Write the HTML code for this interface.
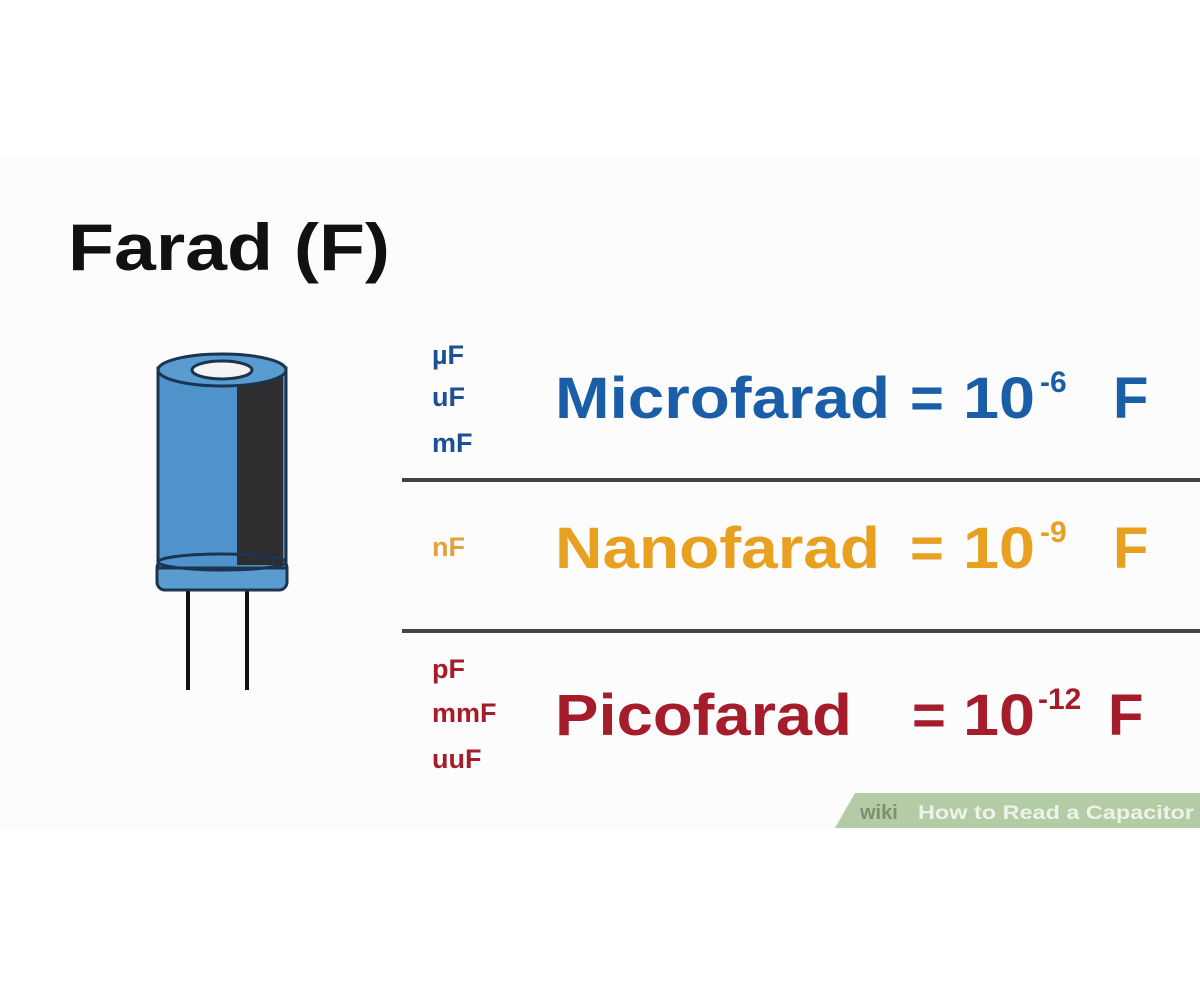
<!DOCTYPE html>
<html><head><meta charset="utf-8"><style>
html,body{margin:0;padding:0;background:#fff;}
svg{display:block;font-family:"Liberation Sans",Arial,sans-serif;font-weight:bold;}
</style></head><body>
<svg width="1200" height="981" viewBox="0 0 1200 981" xmlns="http://www.w3.org/2000/svg">
<rect width="1200" height="981" fill="#ffffff"/>
<rect x="0" y="155" width="1200" height="675" fill="#fcfcfc"/>
<text x="68" y="270" font-size="66" fill="#111" textLength="322" lengthAdjust="spacingAndGlyphs">Farad (F)</text>

<!-- capacitor -->
<line x1="188" y1="585" x2="188" y2="690" stroke="#111" stroke-width="4"/>
<line x1="247" y1="585" x2="247" y2="690" stroke="#111" stroke-width="4"/>
<rect x="157" y="560" width="130" height="30" rx="8" fill="#5a9cd0" stroke="#1b3550" stroke-width="3"/>
<rect x="158" y="368" width="128" height="200" fill="#4f93cc" stroke="#1b3550" stroke-width="3"/>
<rect x="237" y="375" width="46" height="190" fill="#2e2e30"/>
<ellipse cx="222" cy="562" rx="64" ry="8" fill="none" stroke="#1b3550" stroke-width="3"/>
<ellipse cx="222" cy="370" rx="64" ry="16" fill="#5a9cd0" stroke="#1b3550" stroke-width="3"/>
<ellipse cx="222" cy="370" rx="30" ry="9" fill="#f4f4f4" stroke="#1b3550" stroke-width="3"/>

<!-- lines -->
<rect x="402" y="478" width="798" height="4" fill="#444"/>
<rect x="402" y="629" width="798" height="4" fill="#444"/>

<!-- row 1 -->
<g fill="#1c4f93" font-size="27">
<text x="432" y="364">µF</text>
<text x="432" y="406">uF</text>
<text x="432" y="452">mF</text>
</g>
<g fill="#1a5ea8">
<text x="555" y="418" font-size="58" textLength="335" lengthAdjust="spacingAndGlyphs">Microfarad</text>
<text x="910" y="418" font-size="58">=</text>
<text x="963" y="418" font-size="58" textLength="72" lengthAdjust="spacingAndGlyphs">10</text>
<text x="1040" y="392" font-size="30">-6</text>
<text x="1113" y="418" font-size="58">F</text>
</g>
<!-- row 2 -->
<text x="432" y="556" font-size="27" fill="#e4a03a">nF</text>
<g fill="#e8a020">
<text x="555" y="568" font-size="58" textLength="325" lengthAdjust="spacingAndGlyphs">Nanofarad</text>
<text x="910" y="568" font-size="58">=</text>
<text x="963" y="568" font-size="58" textLength="72" lengthAdjust="spacingAndGlyphs">10</text>
<text x="1040" y="542" font-size="30">-9</text>
<text x="1113" y="568" font-size="58">F</text>
</g>
<!-- row 3 -->
<g fill="#a51c2a" font-size="27">
<text x="432" y="678">pF</text>
<text x="432" y="722">mmF</text>
<text x="432" y="768">uuF</text>
</g>
<g fill="#a51c2a">
<text x="555" y="735" font-size="58" textLength="297" lengthAdjust="spacingAndGlyphs">Picofarad</text>
<text x="912" y="735" font-size="58">=</text>
<text x="963" y="735" font-size="58" textLength="72" lengthAdjust="spacingAndGlyphs">10</text>
<text x="1038" y="709" font-size="30">-12</text>
<text x="1108" y="735" font-size="58">F</text>
</g>

<!-- watermark -->
<polygon points="855,793 1200,793 1200,828 835,828" fill="#b4cca6"/>
<text x="860" y="819" font-size="20" fill="#7d8f72">wiki</text>
<text x="918" y="819" font-size="19" fill="#eef3ea" textLength="276" lengthAdjust="spacingAndGlyphs">How to Read a Capacitor</text>
</svg>
</body></html>
